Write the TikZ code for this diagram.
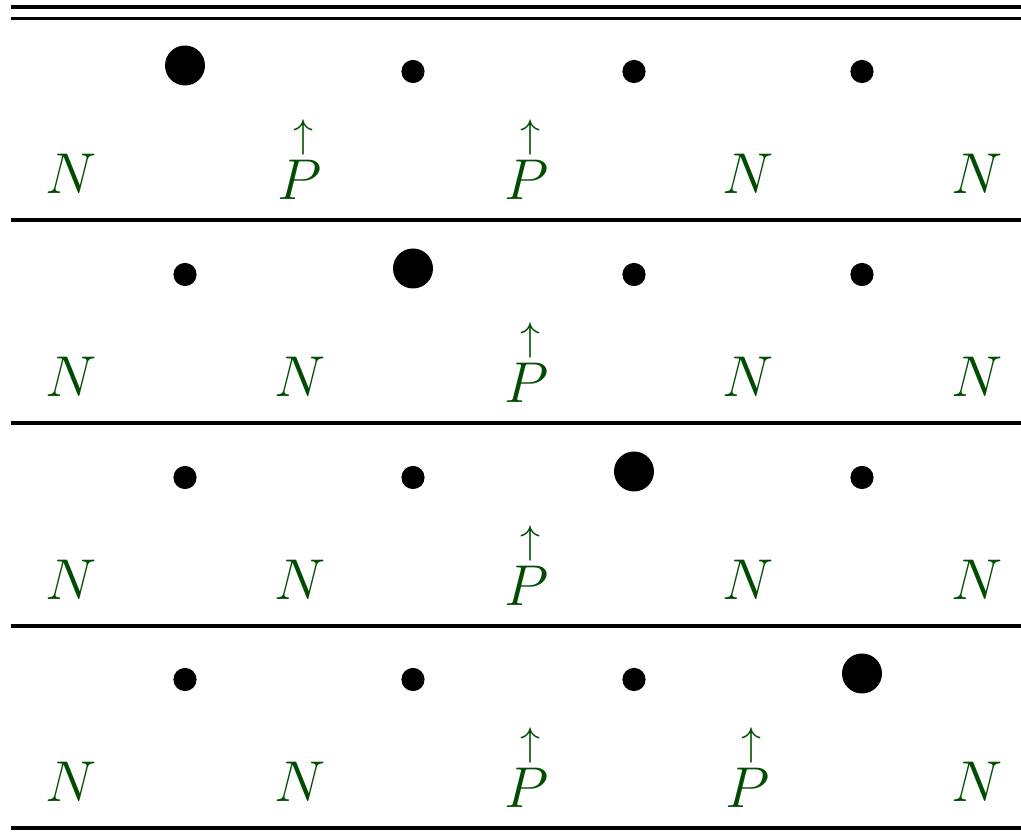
\documentclass[tikz,border=0pt]{standalone}
\definecolor{lbl}{rgb}{0,0.3,0}
\tikzset{
  rule/.style={line width=0.8pt},
  bigdot/.style={circle,fill=black,inner sep=0pt,minimum size=10pt},
  smalldot/.style={circle,fill=black,inner sep=0pt,minimum size=5.8pt},
  lab/.style={anchor=base,inner sep=0pt,text=lbl,font=\fontsize{14.5}{17}\selectfont}
}
\newcommand{\Nl}{$N$}
\newcommand{\Pl}{$\stackrel{\uparrow}{P}$}
\begin{document}
\begin{tikzpicture}[x=0.25pt,y=-0.25pt]
\useasboundingbox (0,0) rectangle (1021,834);
% rules
\draw[rule] (11,7) -- (1021,7);
\draw[rule] (11,18.5) -- (1021,18.5);
\foreach \y in {220,423,626,828} \draw[rule] (11,\y) -- (1021,\y);
% rows
\foreach \r/\top/\base/\big/\la/\lb/\lc/\ld/\le in {
  1/220/194/1/\Nl/\Pl/\Pl/\Nl/\Nl,
  2/423/397/2/\Nl/\Nl/\Pl/\Nl/\Nl,
  3/626/600/3/\Nl/\Nl/\Pl/\Nl/\Nl,
  4/828/802/4/\Nl/\Nl/\Pl/\Pl/\Nl}{
  \foreach \c/\x in {1/185,2/413,3/634,4/862}{
    \ifnum\c=\big
      \node[bigdot] (d\r\c) at (\x,\top-154.5) {};
    \else
      \node[smalldot] (d\r\c) at (\x,\top-148.5) {};
    \fi
  }
  \node[lab] (l\r1) at (71,\base) {\la};
  \node[lab] (l\r2) at (300,\base) {\lb};
  \node[lab] (l\r3) at (527,\base) {\lc};
  \node[lab] (l\r4) at (748,\base) {\ld};
  \node[lab] (l\r5) at (977,\base) {\le};
}
\end{tikzpicture}
\end{document}
